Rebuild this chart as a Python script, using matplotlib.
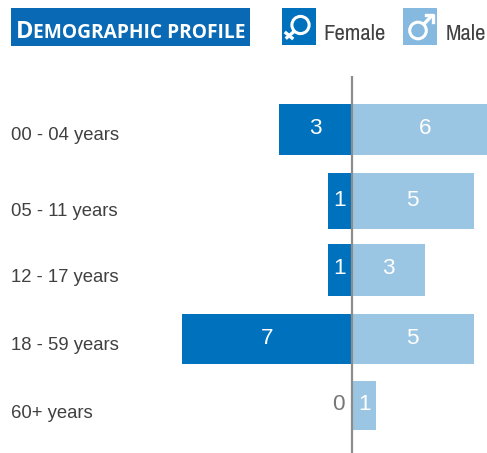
import matplotlib
matplotlib.use("Agg")
import matplotlib.pyplot as plt
from matplotlib.patches import Circle, Rectangle

age_groups = ["00 - 04 years", "05 - 11 years", "12 - 17 years", "18 - 59 years", "60+ years"]
female = [3, 1, 1, 7, 0]
male = [6, 5, 3, 5, 1]

# layout, in pixels of the 487x453 picture
WIDTH, HEIGHT = 487, 453
AXIS_X = 352
PX_PER_UNIT = 24.35
row_centers = [129.5, 201, 270, 339, 405.5]
row_heights = [51, 56, 52, 50, 49]
label_y = [135, 211, 277, 345, 413]

BLUE = "#0071bc"
LIGHT = "#9bc6e3"
GREY = "#8c8c8c"
TEXT = "#404040"
NARROW = ["Archivo Narrow", "Liberation Sans"]
plt.rcParams["font.family"] = ["Liberation Sans", "DejaVu Sans"]

fig = plt.figure(figsize=(WIDTH / 100, HEIGHT / 100), dpi=100)

ax = fig.add_axes([0, 0, 1, 1])
ax.set_xlim(-AXIS_X / PX_PER_UNIT, (WIDTH - AXIS_X) / PX_PER_UNIT)
ax.set_ylim(HEIGHT, 0)
ax.axis("off")

ax.barh(row_centers, [-v for v in female], height=row_heights, color=BLUE, linewidth=0)
ax.barh(row_centers, male, height=row_heights, color=LIGHT, linewidth=0)
ax.plot([0, 0], [76, 453], color=GREY, lw=1.6, solid_capstyle="butt")

for name, f, m, yc, yl in zip(age_groups, female, male, row_centers, label_y):
    ax.text((11 - AXIS_X) / PX_PER_UNIT, yl, name, fontsize=13.3, color=TEXT,
            ha="left", va="center")
    if f > 0:
        ax.text(-f / 2, yc - 1, str(f), fontsize=16.2, color="white", ha="center", va="center")
    else:
        ax.text(-0.55, yc - 1, str(f), fontsize=16.2, color="#777777", ha="center", va="center")
    ax.text(m / 2, yc - 1, str(m), fontsize=16.2, color="white", ha="center", va="center")

# header and legend, drawn in pixel coordinates
top = fig.add_axes([0, 0, 1, 1], facecolor="none")
top.set_xlim(0, WIDTH)
top.set_ylim(HEIGHT, 0)
top.axis("off")

top.add_patch(Rectangle((11, 8), 239, 38, color="#0a69b5", lw=0))
top.text(16, 37.7, "D", fontsize=17, fontweight="bold", color="white", family="Open Sans",
         ha="left", va="baseline")
top.text(33, 37.7, "EMOGRAPHIC PROFILE", fontsize=13.8, fontweight="bold", color="white",
         family="Open Sans", ha="left", va="baseline")

# female icon
top.add_patch(Rectangle((282, 8), 34, 37, color=BLUE, lw=0))
top.add_patch(Circle((300.5, 25), 8.6, fill=False, ec="white", lw=2.2))
top.plot([294, 287], [31.5, 37.5], color="white", lw=2.4)
top.plot([286, 292], [33, 38], color="white", lw=2.4)
top.text(323, 40, "Female", fontsize=16.4, color=TEXT, family=NARROW, ha="left", va="baseline")

# male icon
top.add_patch(Rectangle((403, 8), 34, 37, color="#86b9df", lw=0))
top.add_patch(Circle((418, 30.5), 8.3, fill=False, ec="white", lw=2.2))
top.plot([424, 431.5], [24, 16], color="white", lw=2.4)
top.plot([425.5, 432.5, 432.5], [14.8, 14.8, 21.5], color="white", lw=2.4)
top.text(446, 40, "Male", fontsize=16.4, color=TEXT, family=NARROW, ha="left", va="baseline")

fig.savefig("out.png", dpi=100)
